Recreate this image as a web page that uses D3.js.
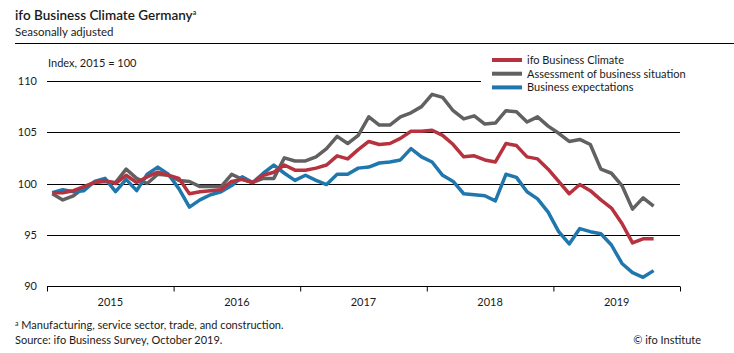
<!DOCTYPE html>
<html>
<head>
<meta charset="utf-8">
<script src="https://cdn.jsdelivr.net/npm/d3@7"></script>
<style>
  body { margin: 0; background: #fff; }
  text { font-family: Lato, "Open Sans", sans-serif; fill: #1a1a1a; }
</style>
</head>
<body>
<div id="chart"></div>
<script>
// monthly, Jan 2015 .. Oct 2019
const years = ["2015", "2016", "2017", "2018", "2019"];
const yTicks = [90, 95, 100, 105, 110];

const climate = [
  99.1, 99.1, 99.3, 99.7, 100.1, 100.3, 100.0, 100.8, 100.1, 100.65, 101.1, 100.8,
  100.5, 99.0, 99.2, 99.3, 99.4, 100.2, 100.4, 100.1, 100.8, 101.1, 101.8, 101.3,
  101.3, 101.5, 101.8, 102.7, 102.4, 103.3, 104.1, 103.8, 103.9, 104.4, 105.1, 105.1,
  105.2, 104.7, 103.8, 102.6, 102.7, 102.3, 102.1, 103.9, 103.7, 102.6, 102.4, 101.4,
  100.2, 99.0, 99.9, 99.3, 98.4, 97.6, 96.1, 94.2, 94.6, 94.6
];

const situation = [
  99.0, 98.4, 98.8, 99.6, 100.1, 100.2, 100.1, 101.4, 100.5, 100.0, 100.9, 100.8,
  100.3, 100.2, 99.7, 99.7, 99.7, 100.9, 100.4, 100.1, 100.5, 100.5, 102.5, 102.2,
  102.2, 102.6, 103.4, 104.6, 103.9, 104.7, 106.5, 105.7, 105.7, 106.5, 106.9, 107.5,
  108.7, 108.4, 107.1, 106.3, 106.6, 105.8, 105.9, 107.1, 107.0, 106.0, 106.5, 105.6,
  104.9, 104.1, 104.3, 103.8, 101.4, 101.0, 99.8, 97.5, 98.6, 97.8
];

const expectations = [
  99.1, 99.4, 99.2, 99.3, 100.2, 100.5, 99.2, 100.4, 99.3, 100.9, 101.6, 100.9,
  99.5, 97.7, 98.4, 98.9, 99.2, 99.8, 100.65, 100.1, 101.0, 101.8, 101.0, 100.3,
  100.8, 100.3, 99.9, 100.9, 100.9, 101.5, 101.6, 102.0, 102.1, 102.3, 103.4, 102.6,
  102.1, 100.8, 100.2, 99.0, 98.9, 98.8, 98.3, 100.9, 100.6, 99.2, 98.5, 97.2,
  95.3, 94.1, 95.6, 95.3, 95.1, 94.0, 92.2, 91.3, 90.85, 91.5
];

const seriesNames = ["ifo Business Climate", "Assessment of business situation", "Business expectations"];
const seriesColors = ["#b5323e", "#616161", "#1f77ad"];

const W = 734, H = 353;
const plot = { left: 47, right: 680, top: 81, bottom: 286 };

const svg = d3.select("#chart").append("svg")
  .attr("width", W).attr("height", H);

// titles
const title = svg.append("text").attr("x", 15).attr("y", 20)
  .style("font-size", "13.5px").style("font-weight", "600");
title.append("tspan").text("ifo Business Climate Germany");
title.append("tspan").text("a").attr("dy", -5).style("font-size", "7px");
svg.append("text").attr("x", 15).attr("y", 36).style("font-size", "11.5px")
  .text("Seasonally adjusted");
svg.append("line").attr("x1", 15).attr("x2", W).attr("y1", 43.5).attr("y2", 43.5)
  .attr("stroke", "#000").attr("stroke-width", 1);
svg.append("text").attr("x", 48).attr("y", 67).style("font-size", "11px")
  .text("Index, 2015 = 100");

// scales
const x = d3.scaleLinear().domain([0, 60]).range([plot.left, plot.right]);
const y = d3.scaleLinear().domain([90, 110]).range([plot.bottom, plot.top]);

// grid lines (110 stops at the legend)
svg.append("g").selectAll("line").data(yTicks.filter(d => d > 90)).join("line")
  .attr("x1", plot.left)
  .attr("x2", d => d === 110 ? 481 : plot.right)
  .attr("y1", d => Math.round(y(d)) + 0.5).attr("y2", d => Math.round(y(d)) + 0.5)
  .attr("stroke", "#000").attr("stroke-width", 1);

// y labels
svg.append("g").selectAll("text").data(yTicks).join("text")
  .attr("x", 37).attr("y", d => y(d) + 4).attr("text-anchor", "end")
  .style("font-size", "11px").text(d => d);

// x axis
const xAxis = d3.axisBottom(x).tickValues(d3.range(0, 61, 12))
  .tickSize(5).tickFormat("");
const gx = svg.append("g").attr("transform", `translate(0,${Math.round(plot.bottom) + 0.5})`).call(xAxis);
gx.select(".domain").attr("d", `M${plot.left},0H${plot.right}`).attr("stroke", "#000");
gx.selectAll(".tick line").attr("stroke", "#000");
svg.append("g").selectAll("text").data(years).join("text")
  .attr("x", (d, i) => x(i * 12 + 6)).attr("y", 306).attr("text-anchor", "middle")
  .style("font-size", "11px").text(d => d);

// lines
const line = d3.line().x((d, i) => x(i + 0.5)).y(d => y(d));
const drawOrder = [[situation, 1], [expectations, 2], [climate, 0]];
drawOrder.forEach(([vals, k]) => {
  svg.append("path").datum(vals).attr("d", line)
    .attr("fill", "none").attr("stroke", seriesColors[k])
    .attr("stroke-width", 3.5).attr("stroke-linejoin", "round");
});

// legend
const lg = svg.append("g");
lg.append("rect").attr("x", 484).attr("y", 50).attr("width", 216).attr("height", 46).attr("fill", "#fff");
seriesNames.forEach((name, i) => {
  const ly = 60 + i * 13.7;
  lg.append("line").attr("x1", 492).attr("x2", 522).attr("y1", ly).attr("y2", ly)
    .attr("stroke", seriesColors[i]).attr("stroke-width", 4);
  lg.append("text").attr("x", 527).attr("y", ly + 4).style("font-size", "11px").text(name);
});

// footer
const fn = svg.append("text").attr("x", 15).attr("y", 329).style("font-size", "11px");
fn.append("tspan").text("a").attr("dy", -3).style("font-size", "7px");
fn.append("tspan").text(" Manufacturing, service sector, trade, and construction.").attr("dy", 3);
svg.append("text").attr("x", 15).attr("y", 344).style("font-size", "11px")
  .text("Source: ifo Business Survey, October 2019.");
svg.append("text").attr("x", 701).attr("y", 344).attr("text-anchor", "end")
  .style("font-size", "11px").text("© ifo Institute");
</script>
</body>
</html>
